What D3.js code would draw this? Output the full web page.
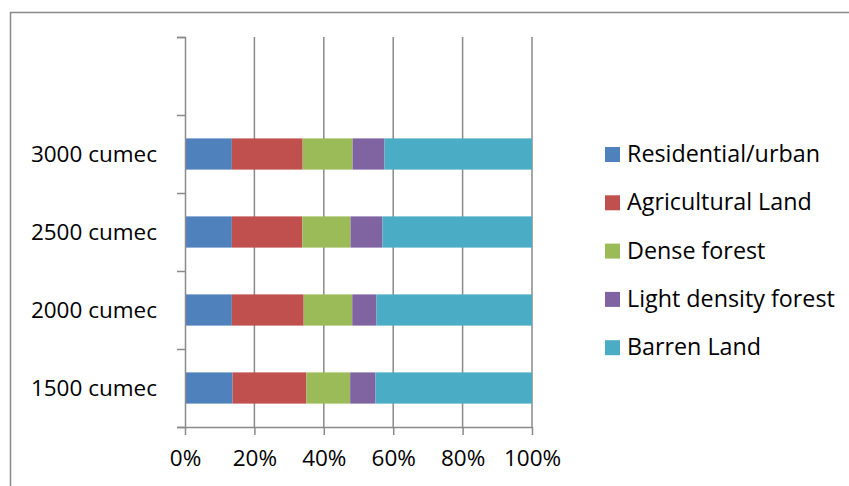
<!DOCTYPE html>
<html>
<head>
<meta charset="utf-8">
<script src="https://cdn.jsdelivr.net/npm/d3@7"></script>
<style>
  body { margin: 0; background: #fff; }
  text { font-family: "Open Sans", sans-serif; font-size: 22.5px; fill: #000; }
</style>
</head>
<body>
<svg id="chart" width="849" height="486"></svg>
<script>
// values (percent of each bar)
const categories = ["1500 cumec", "2000 cumec", "2500 cumec", "3000 cumec"];
const seriesNames = ["Residential/urban", "Agricultural Land", "Dense forest", "Light density forest", "Barren Land"];
const residential = [13.7, 13.5, 13.5, 13.5];
const agricultural = [21.3, 20.7, 20.3, 20.4];
const denseForest = [12.6, 14.0, 13.9, 14.4];
const lightForest = [7.3, 7.0, 9.2, 9.2];
const barren = [45.1, 44.8, 43.1, 42.5];
const xTicks = [0, 0.2, 0.4, 0.6, 0.8, 1];
const colors = ["#4F81BD", "#C0504D", "#9BBB59", "#8064A2", "#4BACC6"];

const svg = d3.select('#chart');

// outer chart border (runs off the right and bottom edge)
svg.append('rect')
  .attr('x', 10.5).attr('y', 12.5)
  .attr('width', 900).attr('height', 500)
  .attr('fill', 'none').attr('stroke', '#8a8a8a').attr('stroke-width', 1.5);

const rows = categories.map((c, i) => ({
  cat: c,
  vals: [residential[i], agricultural[i], denseForest[i], lightForest[i], barren[i]]
}));

const x = d3.scaleLinear().domain([0, 1]).range([185, 532]);
// one empty slot on top, like the original
const y = d3.scaleBand()
  .domain(["_empty"].concat(categories.slice().reverse()))
  .range([37, 427])
  .paddingInner(0.6).paddingOuter(0.3);
const yTick = d3.scaleLinear().domain([0, 5]).range([427, 37]);

// gridlines
svg.append('g')
  .selectAll('line')
  .data(xTicks.slice(1))
  .enter().append('line')
  .attr('x1', d => x(d)).attr('x2', d => x(d))
  .attr('y1', 37).attr('y2', 427)
  .attr('stroke', '#8a8a8a').attr('stroke-width', 1.5);

// stacked bars
rows.forEach(r => {
  const total = d3.sum(r.vals);
  let acc = 0;
  r.vals.forEach((v, k) => {
    const x0 = acc / total;
    acc += v;
    svg.append('rect')
      .attr('x', x(x0))
      .attr('y', y(r.cat))
      .attr('width', x(acc / total) - x(x0))
      .attr('height', y.bandwidth())
      .attr('fill', colors[k]);
  });
});

// y axis with tick marks between slots
const yAxis = svg.append('g')
  .attr('transform', 'translate(185,0)')
  .call(d3.axisLeft(yTick).tickValues([0, 1, 2, 3, 4, 5]).tickSize(8).tickFormat(''));
yAxis.select('.domain').attr('stroke', '#8a8a8a').attr('stroke-width', 1.5);
yAxis.selectAll('.tick line').attr('stroke', '#8a8a8a').attr('stroke-width', 1.5);

// x axis
const xAxis = svg.append('g')
  .attr('transform', 'translate(0,427)')
  .call(d3.axisBottom(x).tickValues(xTicks).tickSize(8).tickSizeOuter(0).tickFormat(d3.format('.0%')));
xAxis.select('.domain').attr('stroke', '#8a8a8a').attr('stroke-width', 1.5);
xAxis.selectAll('.tick line').attr('stroke', '#8a8a8a').attr('stroke-width', 1.5);
xAxis.selectAll('.tick text')
  .attr('y', 39).attr('dy', 0)
  .style('font-size', '22.5px').style('font-family', '"Open Sans", sans-serif').attr('fill', '#000');

// category labels
svg.append('g')
  .selectAll('text')
  .data(categories)
  .enter().append('text')
  .attr('x', 157)
  .attr('y', d => y(d) + y.bandwidth() / 2 + 8)
  .attr('text-anchor', 'end')
  .text(d => d);

// legend
const legend = svg.append('g')
  .selectAll('g')
  .data(seriesNames)
  .enter().append('g')
  .attr('transform', (d, i) => `translate(605,${147 + i * 48.3})`);
legend.append('rect')
  .attr('width', 15).attr('height', 15)
  .attr('fill', (d, i) => colors[i]);
legend.append('text')
  .attr('x', 22).attr('y', 15)
  .style('font-size', '23.3px')
  .text(d => d);
</script>
</body>
</html>
